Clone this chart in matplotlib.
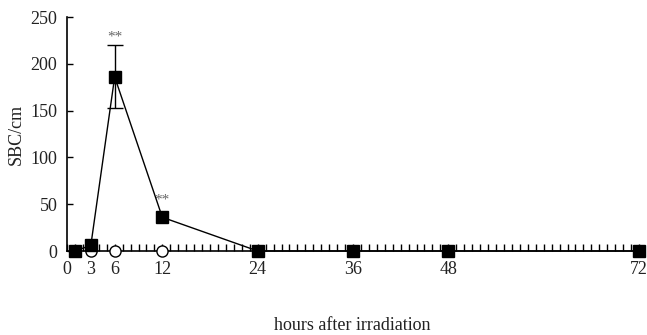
import matplotlib.pyplot as plt
import numpy as np

plt.rcParams['font.family'] = ['Liberation Serif', 'DejaVu Serif']

# data
hours = [1, 3, 6, 12, 24, 36, 48, 72]
sbc_irr = [0, 6, 186, 36, 0, 0, 0, 0]

# only the 6 h point carries an error bar
err_hour = [6]
err_mean = [186]
err_up = [34]
err_low = [33]

ctrl_hours = [1, 3, 6, 12]
sbc_ctrl = [0, 0, 0, 0]

star_hours = [6, 12]
star_y = [222, 48]

xticks = [0, 3, 6, 12, 24, 36, 48, 72]
yticks = [0, 50, 100, 150, 200, 250]

txt_color = '#222222'

fig = plt.figure(figsize=(6.47, 3.35), dpi=100)
ax = fig.add_axes([67 / 647, 1 - 251 / 335, (639 - 67) / 647, (251 - 17) / 335])

# control (open circles)
ax.plot(ctrl_hours, sbc_ctrl, linestyle='none', marker='o', markersize=8,
        markerfacecolor='white', markeredgecolor='black', markeredgewidth=1,
        zorder=3, clip_on=False)

# irradiated (filled squares)
ax.plot(hours, sbc_irr, color='black', linewidth=1, marker='s', markersize=9,
        markerfacecolor='black', markeredgecolor='black', zorder=4, clip_on=False)
ax.errorbar(err_hour, err_mean, yerr=[err_low, err_up], fmt='none', ecolor='black',
            elinewidth=1, capsize=6, capthick=1, zorder=4)

for h, y in zip(star_hours, star_y):
    ax.text(h, y, '**', ha='center', va='bottom', fontsize=11, color='#666666')

ax.set_xlim(0, 72)
ax.set_ylim(0, 250)
ax.set_xticks(xticks)
ax.set_xticks(np.arange(0, 73, 1), minor=True)
ax.set_yticks(yticks)

ax.spines['top'].set_visible(False)
ax.spines['right'].set_visible(False)
for s in ['left', 'bottom']:
    ax.spines[s].set_linewidth(1.2)

ax.tick_params(axis='y', direction='in', length=4, width=1, labelsize=13,
               labelcolor=txt_color, pad=7)
ax.tick_params(axis='x', which='both', direction='in', length=5, width=1,
               labelsize=13, labelcolor=txt_color, pad=7)

ax.set_ylabel('SBC/cm', fontsize=13, color=txt_color, labelpad=4)
# x label sits far below the tick labels
fig.text(352 / 647, 1 - 325 / 335, 'hours after irradiation', ha='center', va='center',
         fontsize=13, color=txt_color)

fig.savefig('out.png', dpi=100, facecolor='white')
